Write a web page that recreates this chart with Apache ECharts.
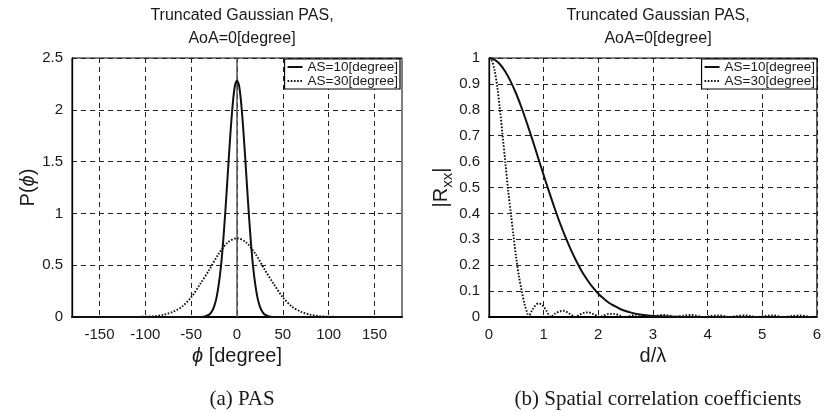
<!DOCTYPE html>
<html>
<head>
<meta charset="utf-8">
<script src="https://cdn.jsdelivr.net/npm/echarts@6/dist/echarts.min.js"></script>
<style>html,body{margin:0;padding:0;background:#fff}#c{width:824px;height:412px}</style>
</head>
<body>
<div id="c"></div>
<script>
// ---- data ----
const seriesNames = ['AS=10[degree]', 'AS=30[degree]'];

// (a) PAS
const phiAS10 = [-180, -40, -35, -30, -27.5, -25, -22.5, -20, -17.5, -15, -12.5, -10, -7.5, -5, -2.5, 0, 2.5, 5, 7.5, 10, 12.5, 15, 17.5, 20, 22.5, 25, 27.5, 30, 35, 40, 180];
const pasAS10 = [0, 0.001, 0.005, 0.025, 0.052, 0.10, 0.18, 0.31, 0.49, 0.74, 1.05, 1.39, 1.73, 2.02, 2.22, 2.28, 2.22, 2.02, 1.73, 1.39, 1.05, 0.74, 0.49, 0.31, 0.18, 0.10, 0.052, 0.025, 0.005, 0.001, 0];
const phiAS30 = [-180, -170, -160, -150, -140, -130, -120, -110, -100, -90, -80, -70, -60, -50, -40, -30, -20, -10, 0, 10, 20, 30, 40, 50, 60, 70, 80, 90, 100, 110, 120, 130, 140, 150, 160, 170, 180];
const pasAS30 = [0, 0, 0, 0, 0, 0, 0, 0.001, 0.003, 0.008, 0.022, 0.05, 0.10, 0.19, 0.32, 0.46, 0.61, 0.72, 0.76, 0.72, 0.61, 0.46, 0.32, 0.19, 0.10, 0.05, 0.022, 0.008, 0.003, 0.001, 0, 0, 0, 0, 0, 0, 0];
const phiTickLabels = [-150, -100, -50, 0, 50, 100, 150];

// (b) spatial correlation
const dAS10 = [0, 0.1, 0.2, 0.3, 0.4, 0.5, 0.6, 0.7, 0.8, 0.9, 1.0, 1.1, 1.2, 1.3, 1.4, 1.5, 1.6, 1.7, 1.8, 1.9, 2.0, 2.1, 2.2, 2.3, 2.4, 2.5, 2.6, 2.7, 2.8, 2.9, 3.0, 3.5, 4.0, 5.0, 6.0];
const rAS10 = [1, 0.994, 0.976, 0.947, 0.908, 0.861, 0.806, 0.745, 0.681, 0.614, 0.548, 0.483, 0.421, 0.362, 0.308, 0.259, 0.215, 0.176, 0.143, 0.114, 0.090, 0.071, 0.054, 0.042, 0.031, 0.023, 0.017, 0.012, 0.009, 0.006, 0.004, 0.001, 0, 0, 0];
const dAS30 = [0, 0.05, 0.1, 0.15, 0.2, 0.25, 0.3, 0.35, 0.4, 0.45, 0.5, 0.55, 0.6, 0.65, 0.7, 0.72, 0.8, 0.9, 0.95, 1.0, 1.05, 1.1, 1.13, 1.2, 1.3, 1.36, 1.45, 1.55, 1.58, 1.65, 1.75, 1.82, 1.9, 2.0, 2.03, 2.1, 2.2, 2.3, 2.4, 2.48, 2.6, 2.7, 2.8, 2.9, 2.95, 3.1, 3.2, 3.3, 3.4, 3.55, 3.7, 3.8, 3.9, 4.05, 4.2, 4.3, 4.4, 4.55, 4.7, 4.8, 4.9, 5.05, 5.2, 5.3, 5.4, 5.55, 5.7, 5.8, 5.9, 6.0];
const rAS30 = [1, 0.99, 0.955, 0.89, 0.80, 0.70, 0.595, 0.49, 0.40, 0.31, 0.225, 0.155, 0.10, 0.05, 0.015, 0, 0.03, 0.052, 0.05, 0.04, 0.025, 0.005, 0, 0.012, 0.022, 0.024, 0.016, 0.002, 0, 0.008, 0.017, 0.018, 0.012, 0.002, 0, 0.006, 0.012, 0.012, 0.005, 0, 0.005, 0.009, 0.007, 0.002, 0, 0.006, 0.008, 0.005, 0, 0.005, 0.008, 0.005, 0, 0.004, 0.006, 0.004, 0, 0.004, 0.006, 0.003, 0, 0.004, 0.006, 0.003, 0, 0.004, 0.006, 0.003, 0, 0.002];

const titleText = 'Truncated Gaussian PAS,\nAoA=0[degree]';
const captionA = '(a) PAS';
const captionB = '(b) Spatial correlation coefficients';

// ---- build ----
const zip = (xs, ys) => xs.map((x, i) => [x, ys[i]]);
const SANS = '"Liberation Sans", Arial, Helvetica, sans-serif';
const SERIF = '"Liberation Serif", "Times New Roman", serif';
const TXT = '#1a1a1a';
const gridLine = { show: true, lineStyle: { color: '#222', type: [5, 4], width: 1 } };
const labelStyle = { color: TXT, fontSize: 15, fontFamily: SANS, margin: 9 };
const solid = { color: '#111', width: 2, type: 'solid' };
const dotted = { color: '#111', width: 1.9, type: [1.6, 1.6] };
const titleStyle = { fontFamily: SANS, fontSize: 16, fontWeight: 'normal', color: TXT, lineHeight: 23 };
const captionStyle = { fontFamily: SERIF, fontSize: 21, fontWeight: 'normal', color: TXT };
const legendBase = {
  data: seriesNames, orient: 'vertical', top: 59, itemGap: 0, itemWidth: 15, itemHeight: 14,
  padding: [1, 2, 1, 2], borderColor: '#000', borderWidth: 1.2, backgroundColor: '#fff',
  itemStyle: { opacity: 0, borderWidth: 0 },
  textStyle: { fontFamily: SANS, fontSize: 13.5, color: TXT, lineHeight: 14 }
};
const nameStyle = { fontFamily: SANS, fontSize: 20, color: TXT };

const chart = echarts.init(document.getElementById('c'), null, { renderer: 'canvas' });
chart.setOption({
  animation: false,
  backgroundColor: '#fff',
  title: [
    { text: titleText, left: 237, top: -1, textAlign: 'center', textStyle: titleStyle },
    { text: titleText, left: 653, top: -1, textAlign: 'center', textStyle: titleStyle },
    { text: captionA, left: 237, top: 384, textAlign: 'center', textStyle: captionStyle },
    { text: captionB, left: 653, top: 384, textAlign: 'center', textStyle: captionStyle }
  ],
  legend: [
    Object.assign({ right: 424 }, legendBase),
    Object.assign({ right: 7 }, legendBase)
  ],
  grid: [
    { left: 72, top: 58, width: 330, height: 259, show: true, borderColor: '#000', borderWidth: 1, backgroundColor: 'transparent' },
    { left: 489, top: 58, width: 329, height: 259, show: true, borderColor: '#000', borderWidth: 1, backgroundColor: 'transparent' }
  ],
  xAxis: [
    { type: 'value', gridIndex: 0, min: -180, max: 180,
      name: '{i|ϕ} [degree]', nameLocation: 'middle', nameGap: 29,
      nameTextStyle: Object.assign({ rich: { i: Object.assign({ fontStyle: 'italic' }, nameStyle) } }, nameStyle),
      axisLine: { show: true, onZero: false, lineStyle: { color: '#000', width: 2 } },
      axisTick: { show: false, customValues: phiTickLabels },
      axisLabel: Object.assign({ customValues: phiTickLabels }, labelStyle, { margin: 10 }),
      splitLine: gridLine },
    { type: 'value', gridIndex: 1, min: 0, max: 6, interval: 1,
      name: 'd/λ', nameLocation: 'middle', nameGap: 29,
      nameTextStyle: nameStyle,
      axisLine: { show: true, onZero: false, lineStyle: { color: '#000', width: 2 } },
      axisTick: { show: false },
      axisLabel: Object.assign({}, labelStyle, { margin: 10 }),
      splitLine: gridLine }
  ],
  yAxis: [
    { type: 'value', gridIndex: 0, min: 0, max: 2.5, interval: 0.5,
      name: 'P({i|ϕ})', nameLocation: 'middle', nameGap: 27,
      nameTextStyle: Object.assign({ rich: { i: Object.assign({ fontStyle: 'italic' }, nameStyle) } }, nameStyle),
      axisLine: { show: true, onZero: false, lineStyle: { color: '#000', width: 1.3 } },
      axisTick: { show: false },
      axisLabel: labelStyle,
      splitLine: gridLine },
    { type: 'value', gridIndex: 1, min: 0, max: 1, interval: 0.1,
      name: '{m||R}{s|xx}{m||}', nameLocation: 'middle', nameGap: 24,
      nameTextStyle: Object.assign({ rich: {
        m: { fontFamily: SANS, fontSize: 20, color: TXT, lineHeight: 28, verticalAlign: 'middle' },
        s: { fontFamily: SANS, fontSize: 15, color: TXT, lineHeight: 28, verticalAlign: 'bottom' } } }, nameStyle),
      axisLine: { show: true, onZero: false, lineStyle: { color: '#000', width: 1.3 } },
      axisTick: { show: false },
      axisLabel: labelStyle,
      splitLine: gridLine }
  ],
  series: [
    { name: seriesNames[1], type: 'line', xAxisIndex: 0, yAxisIndex: 0, data: zip(phiAS30, pasAS30),
      smooth: 0.3, symbol: 'none', lineStyle: dotted, itemStyle: { color: '#111' }, z: 3,
      markLine: { silent: true, symbol: 'none', label: { show: false },
        lineStyle: { color: '#555', type: 'solid', width: 1.5 }, data: [{ xAxis: 0 }], z: 1 } },
    { name: seriesNames[0], type: 'line', xAxisIndex: 0, yAxisIndex: 0, data: zip(phiAS10, pasAS10),
      smooth: 0.3, symbol: 'none', lineStyle: solid, itemStyle: { color: '#111' }, z: 4 },
    { name: seriesNames[1], type: 'line', xAxisIndex: 1, yAxisIndex: 1, data: zip(dAS30, rAS30),
      smooth: 0.3, symbol: 'none', lineStyle: dotted, itemStyle: { color: '#111' }, z: 3 },
    { name: seriesNames[0], type: 'line', xAxisIndex: 1, yAxisIndex: 1, data: zip(dAS10, rAS10),
      smooth: 0.3, symbol: 'none', lineStyle: solid, itemStyle: { color: '#111' }, z: 4 }
  ]
});
</script>
</body>
</html>
